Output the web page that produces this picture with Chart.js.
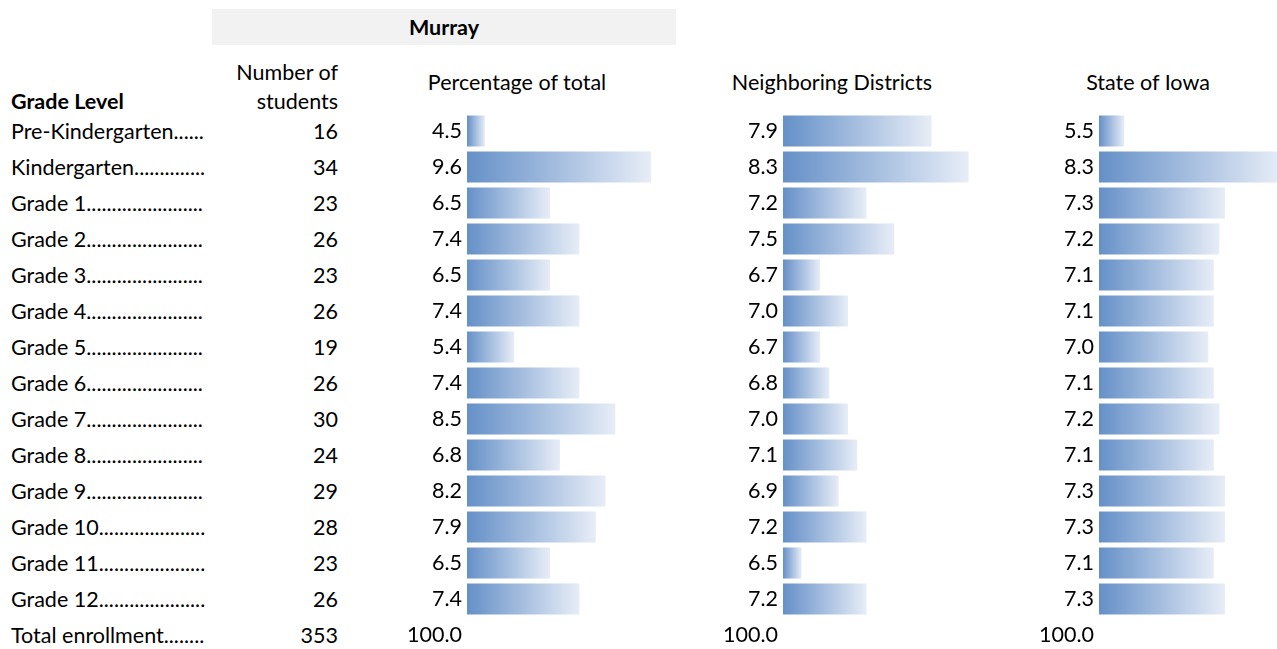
<!DOCTYPE html>
<html><head><meta charset="utf-8">
<script src="https://cdn.jsdelivr.net/npm/chart.js@4.4.1/dist/chart.umd.min.js"></script>
<style>
html,body{margin:0;padding:0;background:#fff}
body{width:1277px;height:649px;overflow:hidden;position:relative;font-family:Lato,"Open Sans",sans-serif;color:#000}
.t{position:absolute;white-space:nowrap;font-size:21.5px;height:36px;line-height:36px}
.r{text-align:right}
.c{text-align:center}
.b{font-weight:bold}
canvas{position:absolute}
#band{position:absolute;left:212px;top:9px;width:464px;height:36px;background:#F2F2F2}
</style></head><body>
<div id="band"></div>
<div id="txt"></div>
<canvas id="cPct"></canvas>
<canvas id="cNb"></canvas>
<canvas id="cIa"></canvas>
<script>
// ---- data ----
const grades = ["Pre-Kindergarten","Kindergarten","Grade 1","Grade 2","Grade 3","Grade 4","Grade 5","Grade 6","Grade 7","Grade 8","Grade 9","Grade 10","Grade 11","Grade 12"];
const totalLabel = "Total enrollment";
const students = [16,34,23,26,23,26,19,26,30,24,29,28,23,26];
const studentsTotal = 353;
const pctOfTotal = [4.5,9.6,6.5,7.4,6.5,7.4,5.4,7.4,8.5,6.8,8.2,7.9,6.5,7.4];
const neighboring = [7.9,8.3,7.2,7.5,6.7,7.0,6.7,6.8,7.0,7.1,6.9,7.2,6.5,7.2];
const stateIowa = [5.5,8.3,7.3,7.2,7.1,7.1,7.0,7.1,7.2,7.1,7.3,7.3,7.1,7.3];
const columnTotals = [100.0,100.0,100.0];
const headerGroup = "Murray";
const headers = ["Percentage of total","Neighboring Districts","State of Iowa"];

// ---- layout ----
const FONT = 'Lato, "Open Sans", sans-serif';
const FS = 21.5;
const ROW = 36, TOP = 113;
const txt = document.getElementById('txt');
function add(text, x, y, w, cls){
  const d = document.createElement('div');
  d.className = 't ' + (cls||'');
  d.textContent = text;
  d.style.left = x + 'px'; d.style.top = y + 'px';
  if (w) d.style.width = w + 'px';
  txt.appendChild(d);
  return d;
}
// dot leaders
const mctx = document.createElement('canvas').getContext('2d');
mctx.font = FS + 'px ' + FONT;
function leader(s, maxW){
  let out = s;
  while (mctx.measureText(out + '.').width <= maxW) out += '.';
  return out;
}
add(headerGroup, 212, 9, 464, 'c b');
add('Number of', 200, 54, 138, 'r');
add('students', 200, 83, 138, 'r');
add('Grade Level', 11, 83, 0, 'b');
const headerCenters = [517, 832, 1148];
headers.forEach((h,i)=> add(h, headerCenters[i]-150, 64, 300, 'c'));
const allLabels = grades.concat([totalLabel]);
allLabels.forEach((g,i)=>{
  const y = TOP + i*ROW;
  add(leader(g, 196), 11, y, 0, '');
  add(String(i < grades.length ? students[i] : studentsTotal), 238, y, 100, 'r');
});

// ---- charts ----
const YW = 80;
function makeChart(id, vals, total, areaLeft, areaRight, xMin, pxPerUnit){
  const cv = document.getElementById(id);
  const w = areaRight - areaLeft + YW;
  const h = ROW * (vals.length + 1);
  cv.width = w; cv.height = h;
  cv.style.width = w + 'px'; cv.style.height = h + 'px';
  cv.style.left = (areaLeft - YW) + 'px'; cv.style.top = TOP + 'px';
  const data = vals.concat([null]);
  const ch = new Chart(cv, {
    type: 'bar',
    data: { labels: allLabels, datasets: [{
      data: data,
      borderWidth: 0,
      barPercentage: 31/36,
      categoryPercentage: 1,
      backgroundColor: (ctx) => {
        const c = ctx.chart, a = c.chartArea;
        if (!a || ctx.raw == null || !c.scales.x) return '#6590C8';
        const x1 = c.scales.x.getPixelForValue(ctx.raw);
        const g = c.ctx.createLinearGradient(a.left, 0, Math.max(x1, a.left + 1), 0);
        g.addColorStop(0, '#6590C8');
        g.addColorStop(1, '#E7EDF7');
        return g;
      }
    }]},
    options: {
      indexAxis: 'y',
      responsive: false,
      animation: false,
      events: [],
      layout: { padding: 0 },
      plugins: { legend: {display:false}, tooltip: {enabled:false} },
      scales: {
        x: { display: false, min: xMin, max: xMin + (areaRight - areaLeft) / pxPerUnit },
        y: {
          grid: { display: false, drawTicks: false, tickLength: 0 }, border: { display: false },
          afterFit: (s) => { s.width = YW; s.paddingTop = 0; s.paddingBottom = 0; },
          ticks: {
            padding: 5, color: '#000', font: { family: FONT, size: FS },
            callback: (v, i) => (i < vals.length ? vals[i] : total).toFixed(1)
          }
        }
      }
    }
  });
  const a = ch.chartArea;
  const ah = a.bottom - a.top;
  if (Math.abs(h - ah) > 0.5) {
    ch.resize(w, h + (h - ah));
  }
  cv.style.top = (TOP - ch.chartArea.top) + 'px';
  return ch;
}
makeChart('cPct', pctOfTotal, columnTotals[0], 467, 700, 3.95, 32.6);
makeChart('cNb', neighboring, columnTotals[1], 783, 1010, 6.3, 92.8);
makeChart('cIa', stateIowa, columnTotals[2], 1099, 1277, 5.05, 56);
</script>
</body></html>
